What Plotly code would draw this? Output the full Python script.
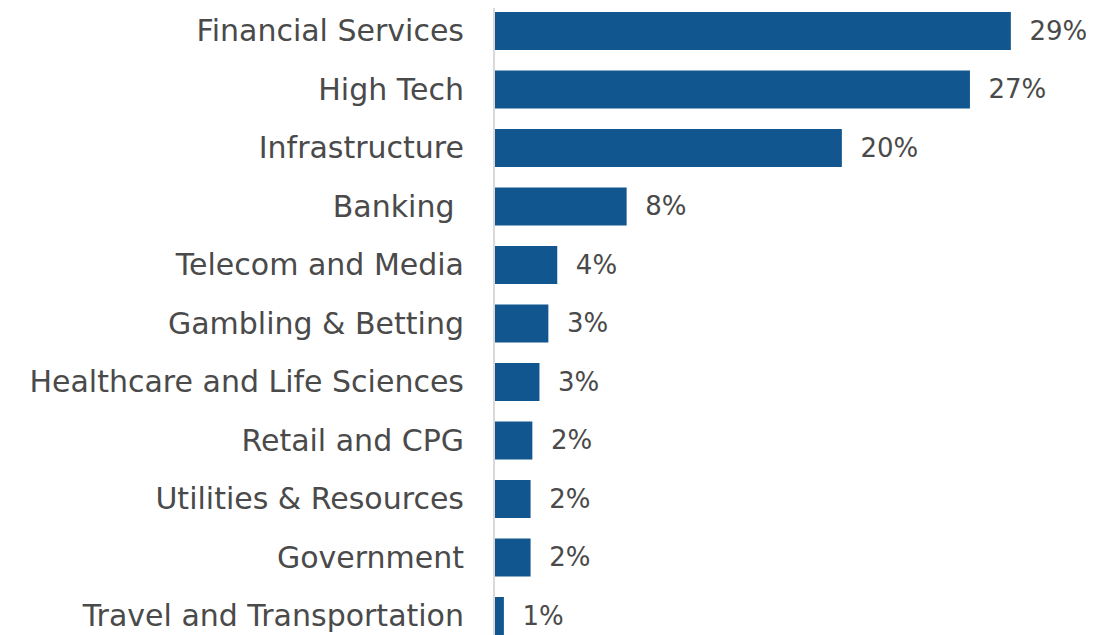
import plotly.graph_objects as go

categories = ["Financial Services", "High Tech", "Infrastructure", "Banking ",
              "Telecom and Media", "Gambling & Betting", "Healthcare and Life Sciences",
              "Retail and CPG", "Utilities & Resources", "Government",
              "Travel and Transportation"]
values = [29.0, 26.7, 19.5, 7.4, 3.5, 3.0, 2.5, 2.1, 2.0, 2.0, 0.5]
value_labels = ["29%", "27%", "20%", "8%", "4%", "3%", "3%", "2%", "2%", "2%", "1%"]

FONT = "DejaVu Sans, sans-serif"
TXT = "#4a4a4a"

fig = go.Figure(go.Bar(
    x=values, y=categories, orientation="h",
    marker=dict(color="#11568f", line=dict(width=0)),
    text=["\u2002\u200a" + t for t in value_labels], textposition="outside",
    textfont=dict(family=FONT, size=26, color=TXT),
    cliponaxis=False, width=0.65,
))

# page body has an 8px margin; the figure is sized to fill the rest of the window
fig.update_layout(
    width=1086, height=627,
    margin=dict(l=487, r=12, t=0, b=0, autoexpand=False),
    paper_bgcolor="white", plot_bgcolor="white",
    showlegend=False,
    xaxis=dict(range=[0, 33.0], visible=False, automargin=False),
    yaxis=dict(
        type="category", range=[10.325, -0.393], automargin=False,
        showline=True, linecolor="#d9d9d9", linewidth=2,
        showgrid=False, ticks="", ticklabelstandoff=23,
        tickfont=dict(family=FONT, size=30, color=TXT),
    ),
)

fig.write_html("out.html")
